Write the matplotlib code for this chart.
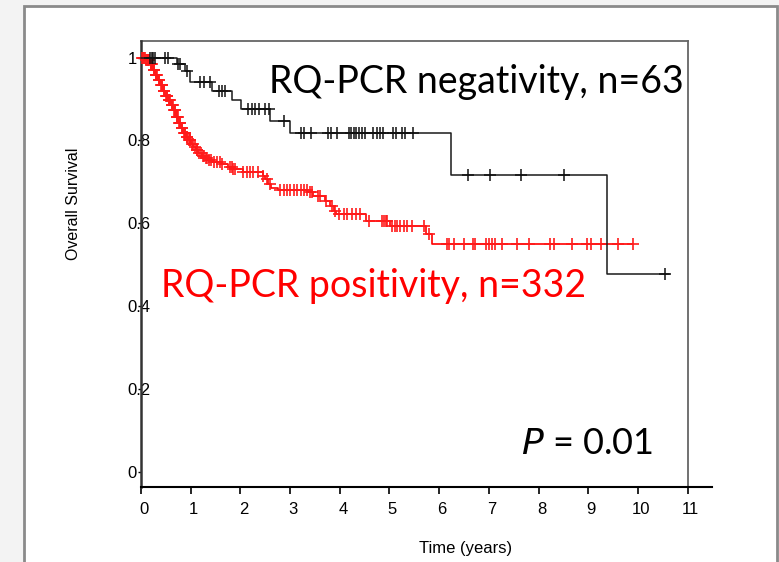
import numpy as np
import matplotlib
matplotlib.use("Agg")
import matplotlib.pyplot as plt
from matplotlib.patches import Rectangle
from matplotlib.lines import Line2D
from matplotlib.transforms import ScaledTranslation

# ---------------- data ----------------
# RQ-PCR positivity (red), n=332
red_event_t = [0.10, 0.18, 0.24, 0.29, 0.34, 0.39, 0.44, 0.49, 0.54, 0.60, 0.65, 0.70,
               0.75, 0.80, 0.85, 0.90, 0.95, 1.00, 1.05, 1.10, 1.15, 1.22, 1.28, 1.35,
               1.45, 1.60, 1.75, 1.85, 2.05, 2.45, 2.50, 2.55, 2.62, 2.75, 3.35, 3.47,
               3.71, 3.81, 3.88, 3.93, 4.52, 5.01, 5.73, 5.86]
red_surv = [0.994, 0.985, 0.970, 0.958, 0.946, 0.933, 0.920, 0.908, 0.897, 0.885, 0.873, 0.857,
            0.841, 0.829, 0.817, 0.808, 0.800, 0.792, 0.784, 0.776, 0.769, 0.763, 0.757, 0.754,
            0.748, 0.744, 0.737, 0.732, 0.724, 0.715, 0.707, 0.695, 0.686, 0.680, 0.675, 0.667,
            0.654, 0.641, 0.631, 0.623, 0.606, 0.594, 0.575, 0.550]
red_censor_t = [0.02, 0.04, 0.06, 0.08, 0.11, 0.12, 0.14, 0.15, 0.17, 0.20, 0.21, 0.22, 0.26,
                0.27, 0.30, 0.31, 0.33, 0.36, 0.37, 0.41, 0.42, 0.43, 0.46, 0.47, 0.51, 0.52,
                0.53, 0.56, 0.57, 0.58, 0.62, 0.63, 0.64, 0.67, 0.68, 0.69, 0.72, 0.73, 0.74,
                0.77, 0.78, 0.79, 0.82, 0.83, 0.87, 0.88, 0.89, 0.92, 0.93, 0.97, 0.98, 0.99,
                1.03, 1.04, 1.08, 1.12, 1.13, 1.17, 1.20, 1.24, 1.26, 1.30, 1.32, 1.37, 1.40,
                1.46, 1.53, 1.59, 1.63, 1.79, 1.83, 1.86, 1.90, 2.06, 2.13, 2.20, 2.26,
                2.36, 2.46, 2.53, 2.60, 2.80, 2.87, 2.94, 3.00, 3.07, 3.14, 3.21, 3.28, 3.34,
                3.41, 3.45, 3.57, 3.61, 3.73, 3.84, 3.90, 3.98, 4.08, 4.15, 4.25, 4.32, 4.41,
                4.58, 4.85, 4.88, 4.92, 4.95, 5.05, 5.11, 5.15, 5.22, 5.29, 5.35, 5.46, 5.69,
                5.80, 6.16, 6.20, 6.30, 6.49, 6.69, 6.73, 6.94, 7.00, 7.07, 7.12, 7.27, 7.57,
                7.81, 8.24, 8.31, 8.68, 8.97, 9.06, 9.25, 9.59, 9.90]
red_end_t = 9.90

# RQ-PCR negativity (black), n=63
black_event_t = [0.72, 0.88, 0.98, 1.43, 1.84, 2.01, 2.60, 2.99, 6.24, 9.37]
black_surv = [0.984, 0.967, 0.941, 0.920, 0.897, 0.875, 0.848, 0.819, 0.716, 0.478]
black_censor_t = [0.18, 0.22, 0.25, 0.28, 0.48, 0.55, 0.75, 0.78, 0.92, 1.18, 1.26, 1.39,
                  1.56, 1.63, 1.69, 2.16, 2.23, 2.30, 2.37, 2.50, 2.57, 2.88, 3.22, 3.29,
                  3.42, 3.76, 3.82, 3.95, 4.18, 4.23, 4.28, 4.33, 4.38, 4.45, 4.50, 4.67,
                  4.74, 4.81, 4.87, 5.07, 5.14, 5.26, 5.31, 5.48, 6.58, 7.02, 7.64, 8.51,
                  10.54]
black_end_t = 10.62

x_ticks = list(range(0, 12))
y_ticks = [0, 0.2, 0.4, 0.6, 0.8, 1]
y_tick_labels = ["0", "0.2", "0.4", "0.6", "0.8", "1"]

label_neg = "RQ-PCR negativity, n=63"
label_pos = "RQ-PCR positivity, n=332"

# ---------------- figure ----------------
W, H = 779, 562
fig = plt.figure(figsize=(W / 100, H / 100), dpi=100)
fig.patch.set_facecolor("#f3f3f3")

def fx(px):
    return px / W

def fy(py):
    return 1 - py / H

# slide panel
fig.patches.append(Rectangle((fx(24), fy(575)), fx(777) - fx(24), fy(6) - fy(575),
                             transform=fig.transFigure, facecolor="white",
                             edgecolor="#8a8a8a", linewidth=2, zorder=-5))

ax_l, ax_r, ax_t, ax_b = 141, 712, 41, 487
ax = fig.add_axes([fx(ax_l), fy(ax_b), fx(ax_r) - fx(ax_l), fy(ax_t) - fy(ax_b)])
ax.set_zorder(2)
ax.patch.set_alpha(0)
xmax = 11.49
ax.set_xlim(0, xmax)
ax.set_ylim(-0.036, 1.04)


def km_curve(event_t, surv, end_t):
    t = np.concatenate([[0.0], event_t, [end_t]])
    s = np.concatenate([[1.0], surv, [surv[-1]]])
    return t, s


def surv_at(event_t, surv, tq):
    ev = np.asarray(event_t)
    sv = np.concatenate([[1.0], surv])
    idx = np.searchsorted(ev, np.asarray(tq), side="right")
    return sv[idx]


# red
t, s = km_curve(red_event_t, red_surv, red_end_t)
ax.step(t, s, where="post", color="#ff0000", lw=1.2, zorder=3, clip_on=False)
ax.plot(red_censor_t, surv_at(red_event_t, red_surv, red_censor_t), ls="none",
        marker="+", ms=9, mew=1.4, color="#ff1a1a", alpha=0.85, zorder=3, clip_on=False)

# black
t, s = km_curve(black_event_t, black_surv, black_end_t)
ax.step(t, s, where="post", color="#1a1a1a", lw=1.1, zorder=4, clip_on=False)
ax.plot(black_censor_t, surv_at(black_event_t, black_surv, black_censor_t), ls="none",
        marker="+", ms=8, mew=1.1, color="#111111", zorder=4, clip_on=False)

# spines / frame
for sp in ["top", "right"]:
    ax.spines[sp].set_visible(False)
ax.spines["left"].set_color("#333333")
ax.spines["left"].set_linewidth(1.8)
ax.spines["bottom"].set_color("black")
ax.spines["bottom"].set_linewidth(1.5)
frame_x = 11.0
ax.add_line(Line2D([0, frame_x], [1.04, 1.04], color="#666666", lw=1.3,
                   transform=ax.transData, clip_on=False))
ax.add_line(Line2D([frame_x, frame_x], [-0.036, 1.04], color="#666666", lw=1.3,
                   transform=ax.transData, clip_on=False))

ax.set_xticks(x_ticks)
ax.set_xticklabels([str(v) for v in x_ticks])
ax.set_yticks(y_ticks)
ax.set_yticklabels(y_tick_labels)
ax.tick_params(axis="x", direction="out", length=5, width=1.2, pad=6,
               labelsize=12, colors="black")
ax.tick_params(axis="y", direction="out", length=2.5, width=1, pad=7,
               labelsize=12, colors="black")
for lab in ax.get_yticklabels():
    lab.set_horizontalalignment("left")
shift = ScaledTranslation(3 / 100, 0, fig.dpi_scale_trans)
for lab in ax.get_xticklabels():
    lab.set_transform(lab.get_transform() + shift)
for lab in ax.get_xticklabels() + ax.get_yticklabels():
    lab.set_fontfamily("Liberation Sans")

fig.text(fx(466), fy(549), "Time (years)", ha="center", va="center",
         fontsize=12, family="Liberation Sans")
fig.text(fx(73), fy(204), "Overall Survival", ha="center", va="center",
         rotation=90, fontsize=11.5, family="Liberation Sans")

# annotations
fig.text(fx(269), fy(92.5), label_neg, ha="left", va="baseline",
         fontsize=27, family="Lato", color="black")
fig.text(fx(161), fy(297), label_pos, ha="left", va="baseline",
         fontsize=27, family="Lato", color="#ff0000")
fig.text(fx(521), fy(454.5), r"$\mathit{P}$ = 0.01", ha="left", va="baseline",
         fontsize=26, family="Lato", color="black")

fig.savefig("out.png", dpi=100, facecolor=fig.get_facecolor())
